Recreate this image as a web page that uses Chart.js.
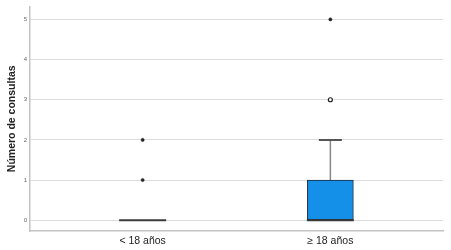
<!DOCTYPE html>
<html>
<head>
<meta charset="utf-8">
<script src="https://cdn.jsdelivr.net/npm/chart.js@4/dist/chart.umd.min.js"></script>
<style>
  html, body { margin: 0; padding: 0; background: #fff; }
  #wrap { width: 451px; height: 250px; }
</style>
</head>
<body>
<div id="wrap"><canvas id="box-chart"></canvas></div>
<script>
// box plot values
const categories = ['< 18 años', '≥ 18 años'];
const q1 = [0, 0];
const median = [0, 0];
const q3 = [0, 1];
const whiskerLow = [0, 0];
const whiskerHigh = [0, 2];
const outliers = [[], [3]];   // open circles
const extremes = [[1, 2], [5]]; // asterisks
const yTicks = [0, 1, 2, 3, 4, 5];

const pos = categories.map((c, i) => i + 1);

const boxes = [];
const medians = [];
const caps = [];
const whiskers = [];
const outPts = [];
const extPts = [];
pos.forEach((x, i) => {
    if (q3[i] > q1[i]) boxes.push({ x: x, y: [q1[i], q3[i]] });
    medians.push({ x: x, y: median[i] });
    if (whiskerHigh[i] > q3[i]) {
        caps.push({ x: x, y: whiskerHigh[i] });
        whiskers.push({ x: x, y: q3[i] }, { x: x, y: whiskerHigh[i] }, { x: NaN, y: NaN });
    }
    if (whiskerLow[i] < q1[i]) {
        caps.push({ x: x, y: whiskerLow[i] });
        whiskers.push({ x: x, y: q1[i] }, { x: x, y: whiskerLow[i] }, { x: NaN, y: NaN });
    }
    outliers[i].forEach(v => outPts.push({ x: x, y: v }));
    extremes[i].forEach(v => extPts.push({ x: x, y: v }));
});

const ctx = document.getElementById('box-chart').getContext('2d');
new Chart(ctx, {
    data: {
        datasets: [
            {
                type: 'line',
                data: whiskers,
                borderColor: '#888',
                borderWidth: 1.5,
                pointRadius: 0,
                spanGaps: false,
                order: 3
            },
            {
                type: 'bar',
                data: boxes,
                backgroundColor: '#1590e8',
                borderColor: '#1b2a3c',
                borderWidth: 1,
                borderSkipped: false,
                barThickness: 46,
                order: 2
            },
            {
                type: 'scatter',
                data: caps,
                pointStyle: 'line',
                pointRadius: 11.5,
                borderColor: '#555',
                borderWidth: 2,
                order: 1
            },
            {
                type: 'scatter',
                data: medians,
                pointStyle: 'line',
                pointRadius: 23.5,
                borderColor: '#3a3a3a',
                borderWidth: 2,
                order: 1
            },
            {
                type: 'scatter',
                data: outPts,
                pointStyle: 'circle',
                pointRadius: 2,
                backgroundColor: '#fff',
                borderColor: '#222',
                borderWidth: 1.2,
                order: 0
            },
            {
                type: 'scatter',
                data: extPts,
                pointStyle: 'circle',
                pointRadius: 1.6,
                backgroundColor: '#222',
                borderColor: '#222',
                borderWidth: 0.5,
                order: 0
            }
        ]
    },
    options: {
        responsive: true,
        maintainAspectRatio: false,
        animation: false,
        layout: { autoPadding: false, padding: { top: 5, right: 8, left: 0, bottom: 0 } },
        plugins: { legend: { display: false }, tooltip: { enabled: false } },
        scales: {
            x: {
                type: 'linear',
                offset: false,
                min: 0.4,
                max: 2.6,
                afterBuildTicks: s => { s.ticks = pos.map(v => ({ value: v })); },
                afterFit: s => { s.height = 19; },
                grid: { display: false, drawTicks: false, tickLength: 0 },
                border: { color: '#c4c4c4', width: 1.5 },
                ticks: {
                    padding: 4,
                    maxRotation: 0,
                    color: '#222',
                    font: { family: 'Arial, Liberation Sans', size: 10.5 },
                    callback: v => categories[v - 1]
                }
            },
            y: {
                min: -0.27,
                max: 5.32,
                afterBuildTicks: s => { s.ticks = yTicks.map(v => ({ value: v })); },
                afterFit: s => { s.width = 30; },
                grid: { color: '#dcdcdc', lineWidth: 1, drawTicks: false },
                border: { color: '#c4c4c4', width: 1.5 },
                ticks: {
                    padding: 3,
                    color: '#666',
                    font: { family: 'Arial, Liberation Sans', size: 6 }
                },
                title: {
                    display: true,
                    text: 'Número de consultas',
                    color: '#222',
                    padding: { top: 6, bottom: 2 },
                    font: { family: 'Arial, Liberation Sans', size: 10.5, weight: 'bold' }
                }
            }
        }
    }
});
</script>
</body>
</html>
